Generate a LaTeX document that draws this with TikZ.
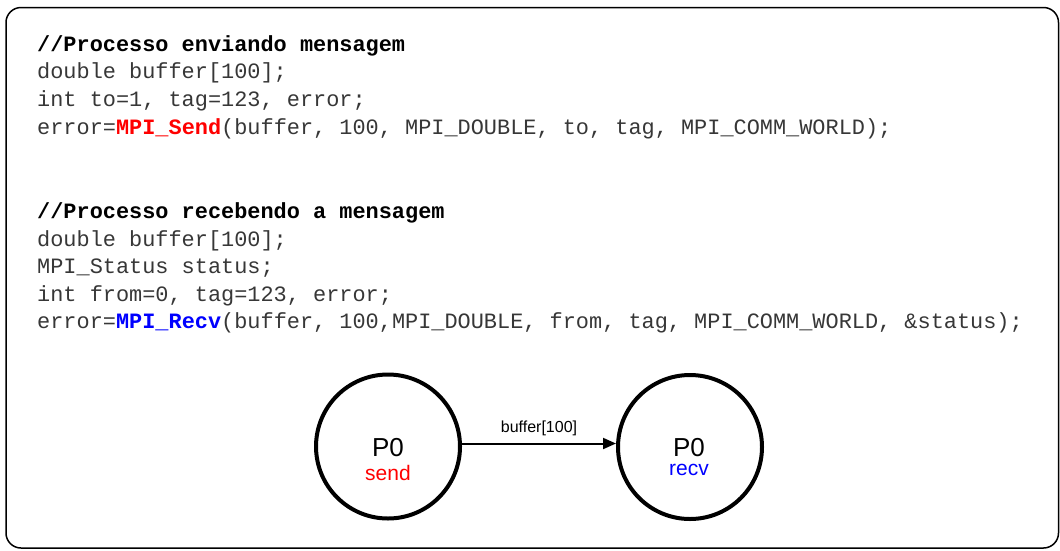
\documentclass[tikz,border=0pt]{standalone}
\usepackage{fontspec}
\setmainfont{Liberation Sans}
\setmonofont{Liberation Mono}
\usetikzlibrary{arrows.meta}
\definecolor{codegray}{RGB}{55,55,55}
\definecolor{sendred}{RGB}{255,0,0}
\definecolor{recvblue}{RGB}{0,0,255}
\tikzset{
  codeline/.style={anchor=base west, inner sep=0pt, text=codegray,
    font=\ttfamily\fontsize{21.9}{27.6}\selectfont},
  proc/.style={circle, draw=black, line width=4pt, minimum size=144pt, inner sep=0pt},
  pname/.style={anchor=base, inner sep=0pt, text depth=0pt, font=\fontsize{26}{30}\selectfont},
  pop/.style={anchor=base, inner sep=0pt, font=\fontsize{21}{24}\selectfont},
  msg/.style={-{Triangle[length=13pt,width=11pt]}, line width=2pt},
}
\newcommand{\kw}[1]{\textbf{#1}}
\begin{document}
\begin{tikzpicture}[x=1pt,y=-1pt]
  \useasboundingbox (0,0) rectangle (1060,550);
  % frame
  \draw[line width=1.5pt, rounded corners=15pt] (6,7.5) rectangle (1058.5,548);

  % sender code
  \node[codeline, text=black] (s1) at (37,51) {\kw{//Processo enviando mensagem}};
  \node[codeline] (s2) at (37,78.8) {double buffer[100];};
  \node[codeline] (s3) at (37,106.6) {int to=1, tag=123, error;};
  \node[codeline] (s4) at (37,134.2) {error=\textcolor{sendred}{\kw{MPI\_Send}}(buffer, 100, MPI\_DOUBLE, to, tag, MPI\_COMM\_WORLD);};

  % receiver code
  \node[codeline, text=black] (r1) at (37,218.5) {\kw{//Processo recebendo a mensagem}};
  \node[codeline] (r2) at (37,246) {double buffer[100];};
  \node[codeline] (r3) at (37,273.5) {MPI\_Status status;};
  \node[codeline] (r4) at (37,301) {int from=0, tag=123, error;};
  \node[codeline] (r5) at (37,328.5) {error=\textcolor{recvblue}{\kw{MPI\_Recv}}(buffer, 100,MPI\_DOUBLE, from, tag, MPI\_COMM\_WORLD, \&status);};

  % processes
  \node[proc] (sender) at (388,446.5) {};
  \node[proc] (receiver) at (690,447) {};
  \node[pname] (sendname) at (388,456) {P0};
  \node[pop, text=sendred] (sendop) at (388,480) {send};
  \node[pname] (recvname) at (689,456) {P0};
  \node[pop, text=recvblue] (recvop) at (689,475.5) {recv};

  % message
  \draw[msg] (sender.east |- 0,443.5) -- (receiver.west |- 0,443.5)
    node[midway, above=7pt, inner sep=0pt, font=\fontsize{16}{18}\selectfont] (buflabel) {buffer[100]};
\end{tikzpicture}
\end{document}
